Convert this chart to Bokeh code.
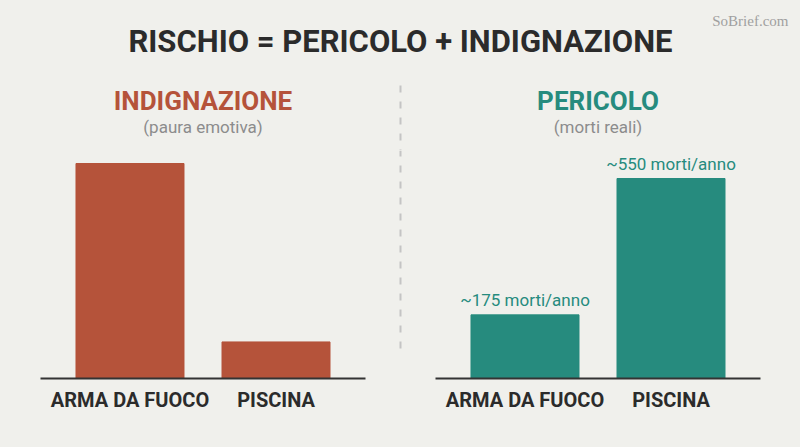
from bokeh.plotting import figure
from bokeh.layouts import column, row
from bokeh.models import Range1d, FactorRange
from bokeh.core.properties import value
from bokeh.embed import file_html
from bokeh.resources import INLINE

# ---------------- data ----------------
categories = ["ARMA DA FUOCO", "PISCINA"]
outrage = [100, 17]            # emotional fear (relative, estimated)
deaths = [175, 550]            # real deaths per year
death_labels = ["~175 morti/anno", "~550 morti/anno"]

main_title = "RISCHIO = PERICOLO + INDIGNAZIONE"
left_title, left_sub = "INDIGNAZIONE", "(paura emotiva)"
right_title, right_sub = "PERICOLO", "(morti reali)"
watermark = "SoBrief.com"

# ---------------- style ----------------
BG = "#f0f0ec"
DARK = "#2b2b2b"
RED = "#b5533a"
TEAL = "#268b7e"
GREY = "#8c8c8c"
DIV = "#c4c4c4"
FONT = value("Roboto")


def base_fig(w, h, xr, yr, **kw):
    p = figure(width=w, height=h, x_range=xr, y_range=yr,
               output_backend="svg", toolbar_location=None,
               background_fill_color=None, border_fill_color=BG,
               outline_line_color=None, **kw)
    p.grid.visible = False
    return p


# ---------------- top band (titles) ----------------
top = base_fig(800, 150, Range1d(0, 800), Range1d(150, 0),
               min_border_left=0, min_border_right=0,
               min_border_top=0, min_border_bottom=0)
top.axis.visible = False
top.text(x=[400], y=[41], text=[main_title], text_font=FONT,
         text_font_style="bold", text_font_size="31px", text_color=DARK,
         text_align="center", text_baseline="middle")
top.text(x=[788], y=[20], text=[watermark], text_font=value("Liberation Serif"),
         text_font_size="15px", text_color="#a0a0a0",
         text_align="right", text_baseline="middle")
top.text(x=[202.5, 597.5], y=[100, 100], text=[left_title, right_title],
         text_font=FONT, text_font_style="bold", text_font_size="26px",
         text_color=[RED, TEAL], text_align="center", text_baseline="middle")
top.text(x=[202.5, 597.5], y=[126, 126], text=[left_sub, right_sub],
         text_font=FONT, text_font_size="17px", text_color=GREY,
         text_align="center", text_baseline="middle")
top.segment(x0=[400], y0=[85], x1=[400], y1=[150], line_color=DIV,
            line_width=2, line_dash="7 9")


# ---------------- panels ----------------
def panel(vals, color, ymax, mb_left, mb_right, labels=None):
    xr = FactorRange(*categories, factor_padding=0.2167,
                     range_padding=0.2218, range_padding_units="percent")
    p = base_fig(mb_left + 325 + mb_right, 297, xr, Range1d(0, ymax),
                 min_border_left=mb_left, min_border_right=mb_right,
                 min_border_top=0, min_border_bottom=69)
    p.vbar(x=categories, top=vals, width=0.9, color=color)
    if labels:
        p.text(x=categories, y=vals, text=labels, text_font=FONT,
               text_font_size="17px", text_color=color, y_offset=-5,
               text_align="center", text_baseline="bottom")
    p.yaxis.visible = False
    ax = p.xaxis[0]
    ax.axis_line_width = 2
    ax.axis_line_color = "#333333"
    ax.major_tick_line_color = None
    ax.major_tick_out = 0
    ax.major_tick_in = 0
    ax.minor_tick_line_color = None
    ax.major_label_text_font = "Roboto"
    ax.major_label_text_font_style = "bold"
    ax.major_label_text_font_size = "20px"
    ax.major_label_text_color = DARK
    ax.major_label_standoff = 9
    return p


left = panel(outrage, RED, 100 * 228 / 215, 40, 30)
right = panel(deaths, TEAL, 550 * 228 / 200, 30, 40, death_labels)

div = base_fig(10, 297, Range1d(0, 10), Range1d(297, 0),
               min_border_left=0, min_border_right=0,
               min_border_top=0, min_border_bottom=0)
div.axis.visible = False
div.segment(x0=[5], y0=[0], x1=[5], y1=[262], line_color=DIV,
            line_width=2, line_dash="7 9", line_dash_offset=1)

layout = column(top, row(left, div, right, spacing=0), spacing=0,
                styles={"background-color": BG})

html = file_html(layout, INLINE)
html = html.replace("<body>", '<body style="margin:0;background-color:%s;">' % BG, 1)
open("out.html", "w").write(html)
